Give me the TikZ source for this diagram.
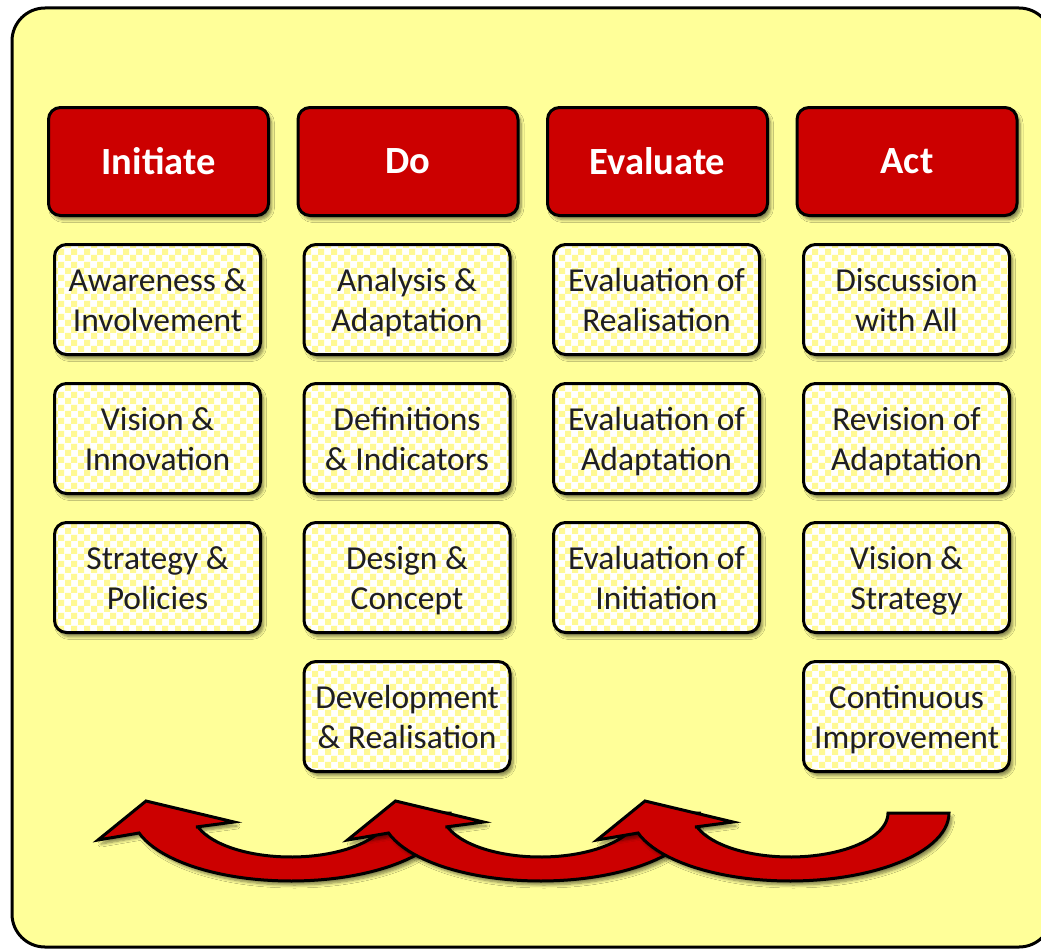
\documentclass[tikz,border=0pt]{standalone}
\usepackage{fontspec}
\setmainfont{Carlito}
\usetikzlibrary{shadows.blur,patterns.meta}
\definecolor{bgY}{HTML}{FFFF99}
\definecolor{chkY}{HTML}{FFF994}
\definecolor{hdrRed}{HTML}{CC0000}
\definecolor{txtD}{HTML}{1E1E24}

\tikzdeclarepattern{
  name=bigcheck,
  type=uncolored,
  bounding box={(0pt,0pt) and (13pt,13pt)},
  tile size={(13pt,13pt)},
  code={
    \fill (0pt,0pt) rectangle (6.5pt,6.5pt);
    \fill (6.5pt,6.5pt) rectangle (13pt,13pt);
  }
}

\newcommand\lnstrut{\rule[-8pt]{0pt}{40pt}}
\newcommand\twolines[2]{\lnstrut #1\\\lnstrut #2}

\tikzset{
  softshadow/.style={blur shadow={shadow xshift=3pt, shadow yshift=-4pt, shadow opacity=50, shadow blur steps=6, shadow blur radius=3pt}},
  hdr/.style={draw=black, line width=3pt, rounded corners=12pt, fill=hdrRed,
    minimum width=220pt, minimum height=108pt, text=white,
    font=\fontsize{38.5}{44}\selectfont\bfseries, softshadow},
  sub/.style={draw=black, line width=3pt, rounded corners=12pt,
    minimum width=206pt, minimum height=110pt, align=center, text=txtD,
    inner sep=0pt, font=\fontsize{33.5}{40}\selectfont, softshadow,
    preaction={fill=white}, pattern=bigcheck, pattern color=chkY},
  bigarrow/.style={draw=black, line width=3pt, fill=hdrRed, line join=miter, softshadow},
  curvarr/.pic={
    \path[bigarrow] (159,0)
      -- plot[domain=0:162.9, samples=50] ({159*cos(\x)},{68*sin(\x)})
      -- (-193,27) -- (-145,-12) -- (-57,9) -- (-95,14)
      -- plot[domain=161.5:0, samples=50] ({98*cos(\x)},{44*sin(\x)})
      -- cycle;
  }
}

\begin{document}
\begin{tikzpicture}[x=1pt,y=-1pt]
\path[use as bounding box] (0,0) rectangle (1041,950);
\clip (0,0) rectangle (1041,950);
\draw[line width=3pt, fill=bgY, rounded corners=33pt] (12,8) rectangle (1052,947);

% headers
\node[hdr] (h1) at (158.5,161.5) {Initiate};
\node[hdr] (h2) at (408,161.5) {Do};
\node[hdr] (h3) at (657.5,161.5) {Evaluate};
\node[hdr] (h4) at (907,161.5) {Act};

% column 1
\node[sub] (a1) at (157.5,299.5) {\twolines{Awareness \&}{Involvement}};
\node[sub] (a2) at (157.5,438.5) {\twolines{Vision \&}{Innovation}};
\node[sub] (a3) at (157.5,577.5) {\twolines{Strategy \&}{Policies}};
% column 2
\node[sub] (b1) at (407,299.5) {\twolines{Analysis \&}{Adaptation}};
\node[sub] (b2) at (407,438.5) {\twolines{Definitions}{\& Indicators}};
\node[sub] (b3) at (407,577.5) {\twolines{Design \&}{Concept}};
\node[sub] (b4) at (407,716.5) {\twolines{Development}{\& Realisation}};
% column 3
\node[sub] (c1) at (656.5,299.5) {\twolines{Evaluation of}{Realisation}};
\node[sub] (c2) at (656.5,438.5) {\twolines{Evaluation of}{Adaptation}};
\node[sub] (c3) at (656.5,577.5) {\twolines{Evaluation of}{Initiation}};
% column 4
\node[sub] (d1) at (906.5,299.5) {\twolines{Discussion}{with All}};
\node[sub] (d2) at (906.5,438.5) {\twolines{Revision of}{Adaptation}};
\node[sub] (d3) at (906.5,577.5) {\twolines{Vision \&}{Strategy}};
\node[sub] (d4) at (906.5,716.5) {\twolines{Continuous}{Improvement}};

% curved arrows
\pic (arr1) at (291,813) {curvarr};
\pic (arr2) at (540.5,813) {curvarr};
\pic (arr3) at (790,813) {curvarr};
\end{tikzpicture}
\end{document}
